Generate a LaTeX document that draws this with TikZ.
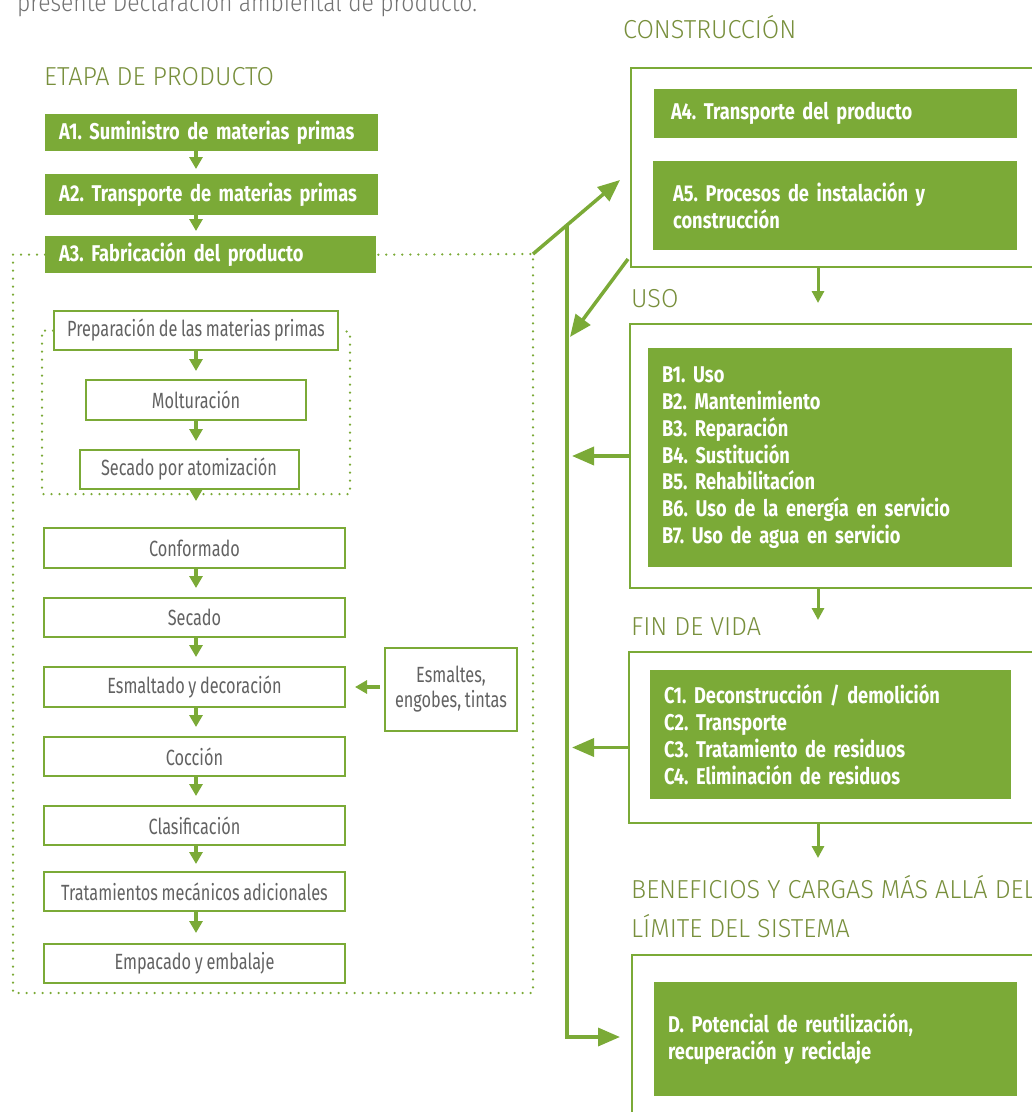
\documentclass[tikz,border=0pt]{standalone}
\usepackage{fontspec}
\setmainfont{Fira Sans}
\newfontfamily\lightfont{Fira Sans}[FakeStretch=0.74,WordSpace=0.85]
\newfontfamily\headfont{Fira Sans Light}[FakeStretch=0.97]
\newfontfamily\introfont{Fira Sans Light}[FakeStretch=0.88]
\newfontfamily\greenfont{Fira Sans Bold}[FakeStretch=0.80,WordSpace=0.4]
\usetikzlibrary{arrows.meta}
\usetikzlibrary{positioning}
\frenchspacing
\lefthyphenmin=64

\definecolor{leaf}{RGB}{123,170,55}
\definecolor{olive}{RGB}{120,143,60}
\definecolor{ash}{RGB}{98,98,98}

\tikzset{
  procbox/.style={draw=leaf,line width=2pt,fill=white,text=ash,
    font=\lightfont\fontsize{22}{25}\selectfont,
    minimum height=39pt,inner sep=0pt,align=center},
  phasebox/.style={fill=leaf,text=white,anchor=north west,
    font=\greenfont\fontsize{22.8}{26.7}\selectfont,
    inner xsep=14pt,inner ysep=0pt,align=left},
  outerbox/.style={draw=leaf,line width=2pt,anchor=north west,inner sep=0pt},
  heading/.style={text=olive,font=\headfont\fontsize{26}{39}\selectfont,
    anchor=base west,inner sep=0pt},
  dotline/.style={leaf,line width=2.5pt,line cap=round,dash pattern=on 0pt off 8pt},
  flow/.style={->,leaf,line width=3.5pt,>={Triangle[length=12pt,width=13pt]}},
  dropflow/.style={->,leaf,line width=3pt,>={Triangle[length=12pt,width=12pt]}},
  bigflow/.style={->,leaf,line width=3.5pt,>={Triangle[length=22pt,width=18pt]}}
}

\begin{document}
\begin{tikzpicture}[x=1pt,y=-1pt,node distance=28pt]
  \useasboundingbox (0,0) rectangle (1032,1112);

  \node[anchor=base west,inner sep=0pt,text=ash!90,
    font=\introfont\fontsize{26}{30}\selectfont] (intro) at (17,11)
    {presente Declaración ambiental de producto.};

  % etapa de producto
  \node[heading] (etapa) at (44,85) {ETAPA DE PRODUCTO};
  \node[phasebox,text width=305pt,minimum height=37pt] (a1) at (45,114)
    {A1. Suministro de materias primas};
  \node[phasebox,text width=305pt,minimum height=41pt] (a2) at (45,174)
    {A2. Transporte de materias primas};
  \node[phasebox,text width=303pt,minimum height=37pt] (a3) at (45,236)
    {A3. Fabricación del producto};

  \node[procbox,minimum width=284pt] (prep) at (196,330.5)
    {Preparación de las materias primas};
  \node[procbox,minimum width=220pt,minimum height=40pt,below=of prep] (molt) {Molturación};
  \node[procbox,minimum width=219pt,below=of molt,xshift=-7pt] (secat) {Secado por atomización};

  \node[procbox,minimum width=301pt,minimum height=40pt] (conf) at (194.5,548) {Conformado};
  \node[procbox,minimum width=301pt,below=of conf] (secado) {Secado};
  \node[procbox,minimum width=301pt,minimum height=40pt,below=of secado] (esmal) {Esmaltado y decoración};
  \node[procbox,minimum width=301pt,below=of esmal] (coccion) {Cocción};
  \node[procbox,minimum width=301pt,below=of coccion] (clasif) {Clasificación};
  \node[procbox,minimum width=301pt,below=25pt of clasif] (tratam) {Tratamientos mecánicos adicionales};
  \node[procbox,minimum width=301pt,below=31pt of tratam] (empac) {Empacado y embalaje};

  \node[procbox,minimum width=132pt,minimum height=83pt] (esm) at (451,689.5)
    {Esmaltes,\\engobes, tintas};

  \coordinate (spine) at (196,0);
  \coordinate (corner) at (533,254);
  \coordinate (bl) at (13,993);

  \draw[dotline] (a3.west) -| (bl) -| (corner) -- (a3.east);
  \draw[dotline] (prep.west) -| (42,494) -| (350,332) -- (prep.east);

  \foreach \from/\to/\gap in {a1/a2/5pt,a2/a3/5pt,prep/molt/8pt,molt/secat/8pt,
      secat/conf/26pt,conf/secado/9pt,secado/esmal/9pt,esmal/coccion/9pt,
      coccion/clasif/9pt,clasif/tratam/7pt,tratam/empac/10pt}
    \draw[flow,shorten >=\gap] (\from.south -| spine) -- (\to.north -| spine);

  \draw[flow,shorten <=4pt,shorten >=9pt] (esm.west |- esmal.east) -- (esmal.east);

  % construccion
  \node[heading] (constr) at (623,38) {CONSTRUCCIÓN};
  \node[outerbox,minimum width=420pt,minimum height=199pt] (cbox) at (630,67) {};
  \node[phasebox,inner xsep=17pt,text width=329pt,minimum height=49pt] (a4) at (654,89)
    {A4. Transporte del producto};
  \node[phasebox,inner xsep=20pt,text width=324pt,minimum height=89pt] (a5) at (653,161)
    {A5. Procesos de instalación y\\construcción};

  % uso
  \node[heading] (uso) at (631,307) {USO};
  \node[outerbox,minimum width=420pt,minimum height=264pt] (ubox) at (629,323) {};
  \node[phasebox,text width=336pt,minimum height=219pt] (b) at (648,348)
    {B1. Uso\\B2. Mantenimiento\\B3. Reparación\\B4. Sustitución\\B5. Rehabilitacíon\\
     B6. Uso de la energía en servicio\\B7. Uso de agua en servicio};

  % fin de vida
  \node[heading] (fin) at (631,635) {FIN DE VIDA};
  \node[outerbox,minimum width=420pt,minimum height=171pt] (fbox) at (628,651) {};
  \node[phasebox,text width=333pt,minimum height=129pt] (c) at (650,670)
    {C1. Deconstrucción / demolición\\C2. Transporte\\C3. Tratamiento de residuos\\
     C4. Eliminación de residuos};

  % mas alla del sistema
  \node[heading] (benef) at (631,898) {BENEFICIOS Y CARGAS MÁS ALLÁ DEL};
  \node[heading] (limite) at (631,937) {LÍMITE DEL SISTEMA};
  \node[outerbox,minimum width=420pt,minimum height=200pt] (dbox) at (631,954) {};
  \node[phasebox,text width=335pt,minimum height=114pt] (d) at (654,982)
    {D. Potencial de reutilización,\\recuperación y reciclaje};

  \coordinate (up) at (620,180);
  \coordinate (fork) at (567,224.5);
  \coordinate (back) at (567,1037);
  \coordinate (cstart) at (628,259);
  \coordinate (ret) at (570,337);
  \coordinate (drop) at (818,0);

  \draw[bigflow] (corner) -- (up);
  \draw[bigflow,shorten >=11pt] (fork) -- (back) -- (back -| dbox.west);
  \draw[bigflow] (cstart) -- (ret);
  \draw[bigflow,shorten >=5pt] (ubox.west) -- (ubox.west -| fork);
  \draw[bigflow,shorten >=5pt] ([yshift=-10pt]fbox.west) -- ([yshift=-10pt]fbox.west -| fork);

  \draw[dropflow,shorten >=20pt] (cbox.south -| drop) -- (ubox.north -| drop);
  \draw[dropflow,shorten >=31pt] (ubox.south -| drop) -- (fbox.north -| drop);
  \draw[dropflow,shorten >=96pt] (fbox.south -| drop) -- (dbox.north -| drop);
\end{tikzpicture}
\end{document}
